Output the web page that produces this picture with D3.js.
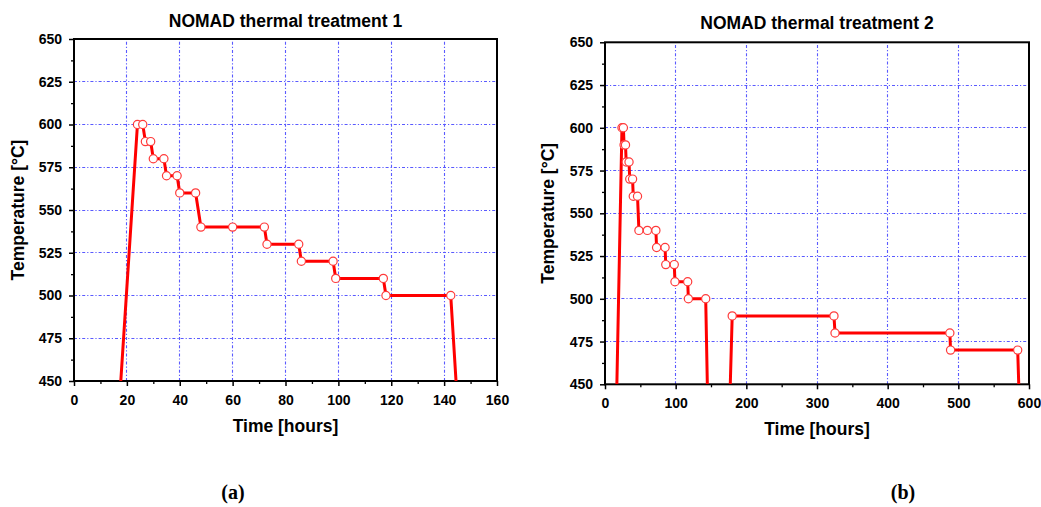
<!DOCTYPE html>
<html><head><meta charset="utf-8">
<script src="https://cdn.jsdelivr.net/npm/d3@7"></script>
<style>
html,body{margin:0;padding:0;background:#fff;}
svg{display:block;}
text{font-family:"Liberation Sans",Arial,sans-serif;font-weight:bold;fill:#000;}
</style></head><body>
<svg id="c" width="1041" height="507"></svg>
<script>
// ---------- data ----------
const titles = ["NOMAD thermal treatment 1", "NOMAD thermal treatment 2"];
const panelLabels = ["(a)", "(b)"];
const xLabel = "Time [hours]";
const yLabel = "Temperature [°C]";

const xTicks1 = [0, 20, 40, 60, 80, 100, 120, 140, 160];
const xTicks2 = [0, 100, 200, 300, 400, 500, 600];
const yTicks = [450, 475, 500, 525, 550, 575, 600, 625, 650];

// Treatment 1 line (time in hours, temperature in °C)
const time1 = [17.7, 24, 26, 27, 29, 30, 34, 35, 39, 40, 46, 48, 60, 72, 73, 85, 86, 98, 99, 117, 118, 142.5, 144.5];
const temp1 = [450, 600, 600, 590, 590, 580, 580, 570, 570, 560, 560, 540, 540, 540, 530, 530, 520, 520, 510, 510, 500, 500, 450];
const mark1 = [0, 1, 1, 1, 1, 1, 1, 1, 1, 1, 1, 1, 1, 1, 1, 1, 1, 1, 1, 1, 1, 1, 0];

// Treatment 2 line (null = break, furnace below 450 °C)
const time2 = [16.8, 24, 26, 27, 29, 30, 34, 35, 39, 40, 46, 48, 60, 72, 73, 85, 86, 98, 99, 117, 118, 142.5, 144.8, null, 177.3, 180, 324, 325.5, 488, 489, 584, 585.5];
const temp2 = [450, 600, 600, 590, 590, 580, 580, 570, 570, 560, 560, 540, 540, 540, 530, 530, 520, 520, 510, 510, 500, 500, 450, null, 450, 490, 490, 480, 480, 470, 470, 450];
const mark2 = [0, 1, 1, 1, 1, 1, 1, 1, 1, 1, 1, 1, 1, 1, 1, 1, 1, 1, 1, 1, 1, 1, 0, 0, 0, 1, 1, 1, 1, 1, 1, 0];

// ---------- drawing ----------
const svg = d3.select("#c");
const gridColor = "#5a5aff";
const lineColor = "#ff0000";
const snap = v => Math.floor(v) + 0.5;

function panel(opt) {
  const x = d3.scaleLinear().domain(opt.xDomain).range(opt.xRange);
  const y = d3.scaleLinear().domain([450, 650]).range(opt.yRange);
  const g = svg.append("g");
  const [x0, x1] = opt.xRange, [y0, y1] = opt.yRange; // y0 bottom, y1 top
  const id = "clip" + opt.idx;
  svg.append("clipPath").attr("id", id).append("rect")
    .attr("x", x0).attr("y", y1).attr("width", x1 - x0).attr("height", y0 - y1);

  // grid
  const xt = opt.xTicks, step = xt[1] - xt[0];
  g.selectAll(".gx").data(xt.slice(1, -1)).join("line")
    .attr("x1", d => snap(x(d))).attr("x2", d => snap(x(d))).attr("y1", y0).attr("y2", y1)
    .attr("stroke", gridColor).attr("stroke-width", 1.1).attr("stroke-dasharray", "3,2,1.2,2");
  g.selectAll(".gy").data(yTicks.slice(1, -1)).join("line")
    .attr("x1", x0).attr("x2", x1).attr("y1", d => snap(y(d))).attr("y2", d => snap(y(d)))
    .attr("stroke", gridColor).attr("stroke-width", 1.1).attr("stroke-dasharray", "3,2,1.2,2");

  // minor ticks
  const xMinor = d3.range(xt[0] + step / 2, xt[xt.length - 1], step);
  const yMinor = d3.range(462.5, 650, 25);
  g.append("g").attr("transform", `translate(0,${y0})`)
    .call(d3.axisBottom(x).tickValues(xMinor).tickSize(3).tickFormat(""))
    .call(a => a.select(".domain").remove())
    .call(a => a.selectAll("line").attr("stroke-width", 1.3));
  g.append("g").attr("transform", `translate(${x0},0)`)
    .call(d3.axisLeft(y).tickValues(yMinor).tickSize(3).tickFormat(""))
    .call(a => a.select(".domain").remove())
    .call(a => a.selectAll("line").attr("stroke-width", 1.3));

  // major axes
  const ax = g.append("g").attr("transform", `translate(0,${y0})`)
    .call(d3.axisBottom(x).tickValues(xt).tickSize(5).tickPadding(9).tickFormat(d3.format("d")));
  ax.select(".domain").remove();
  ax.selectAll("line").attr("stroke-width", 1.5);
  ax.selectAll("text").attr("font-size", 14).attr("font-family", "Liberation Sans, Arial").attr("font-weight", "bold");
  const ay = g.append("g").attr("transform", `translate(${x0},0)`)
    .call(d3.axisLeft(y).tickValues(yTicks).tickSize(5).tickPadding(7).tickFormat(d3.format("d")));
  ay.select(".domain").remove();
  ay.selectAll("line").attr("stroke-width", 1.5);
  ay.selectAll("text").attr("font-size", 14).attr("font-family", "Liberation Sans, Arial").attr("font-weight", "bold");

  // frame
  g.append("rect").attr("x", x0).attr("y", y1).attr("width", x1 - x0).attr("height", y0 - y1)
    .attr("fill", "none").attr("stroke", "#000").attr("stroke-width", 2);

  // data line
  const pts = opt.time.map((t, i) => ({t, v: opt.temp[i], m: opt.mark[i]}));
  const line = d3.line().defined(d => d.t !== null).x(d => x(d.t)).y(d => y(d.v));
  g.append("path").datum(pts).attr("d", line).attr("clip-path", `url(#${id})`)
    .attr("fill", "none").attr("stroke", lineColor).attr("stroke-width", 3).attr("stroke-linejoin", "round");
  g.selectAll(".pt").data(pts.filter(d => d.m)).join("circle")
    .attr("cx", d => x(d.t)).attr("cy", d => y(d.v)).attr("r", 4.1)
    .attr("fill", "#fff").attr("stroke", "#ff3a3a").attr("stroke-width", 1.2);

  // texts
  const cx = (x0 + x1) / 2;
  g.append("text").attr("x", cx).attr("y", opt.titleY).attr("text-anchor", "middle")
    .attr("font-size", 17.5).text(opt.title);
  g.append("text").attr("x", cx).attr("y", opt.xLabelY).attr("text-anchor", "middle")
    .attr("font-size", 17.5).text(xLabel);
  g.append("text").attr("transform", `translate(${opt.yLabelX},${(y0 + y1) / 2}) rotate(-90)`)
    .attr("text-anchor", "middle").attr("font-size", 17.5).text(yLabel);
  g.append("text").attr("x", opt.panelX).attr("y", 499).attr("text-anchor", "middle")
    .style("font-family", "'Liberation Serif','Times New Roman',serif").attr("font-size", 20).text(opt.panel);
}

panel({idx: 1, xDomain: [0, 160], xRange: [74, 497], yRange: [381, 39], xTicks: xTicks1,
  time: time1, temp: temp1, mark: mark1, title: titles[0], panel: panelLabels[0],
  titleY: 27, xLabelY: 432, yLabelX: 24, panelX: 233});
panel({idx: 2, xDomain: [0, 600], xRange: [605, 1029], yRange: [384.3, 42.3], xTicks: xTicks2,
  time: time2, temp: temp2, mark: mark2, title: titles[1], panel: panelLabels[1],
  titleY: 29, xLabelY: 435, yLabelX: 554, panelX: 903});
</script>
</body></html>
